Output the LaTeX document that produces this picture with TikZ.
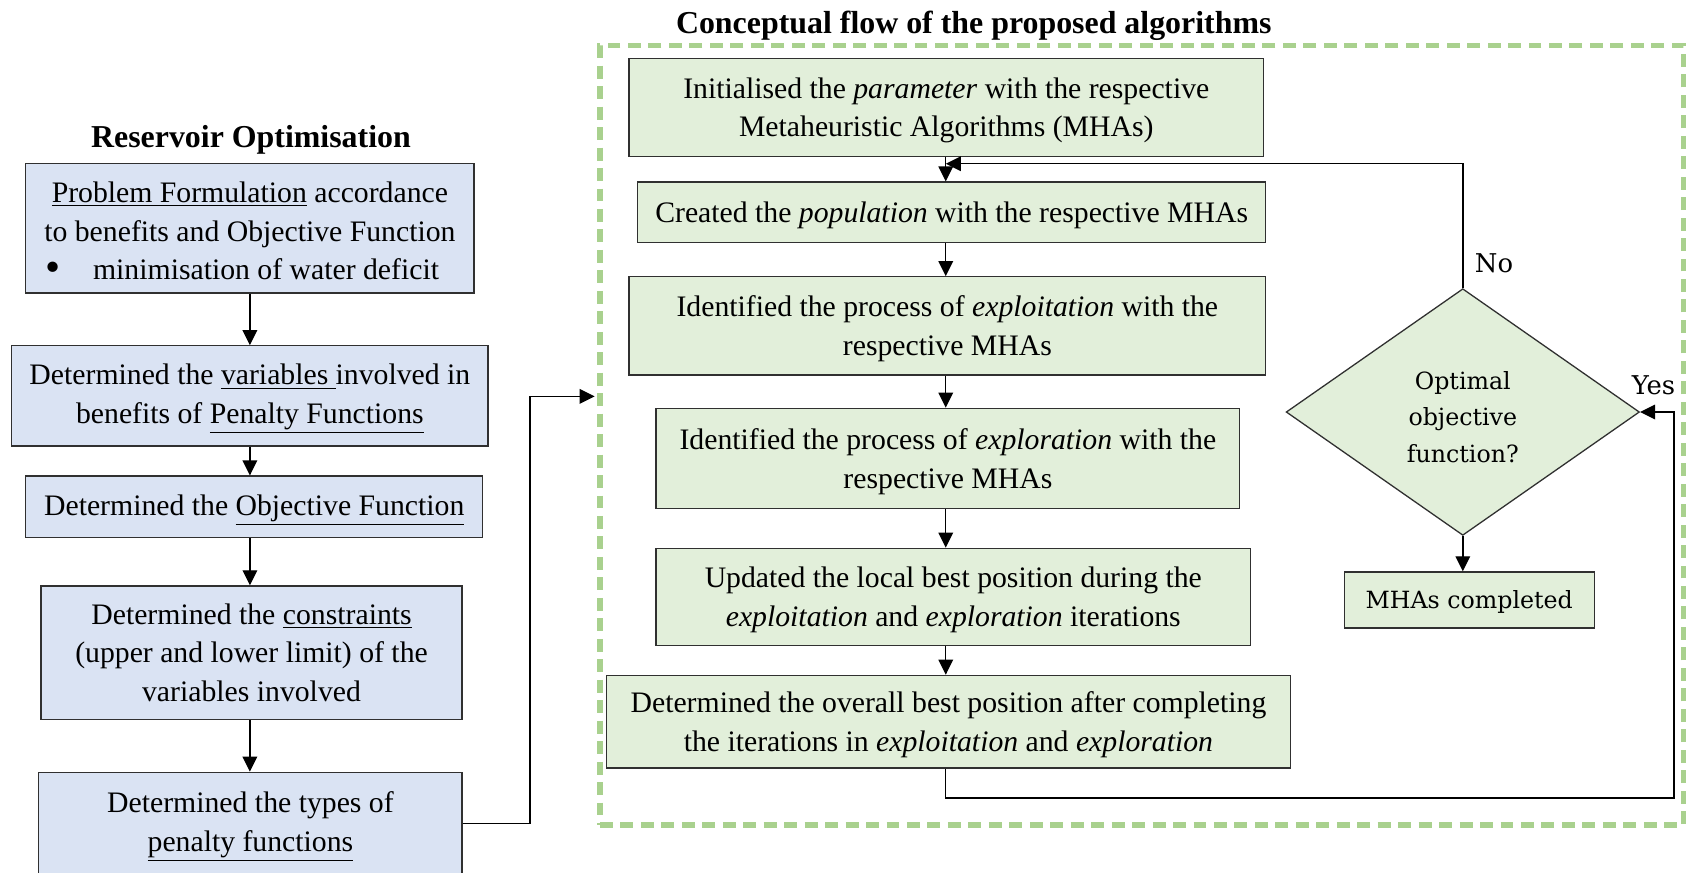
\documentclass[tikz,border=0pt]{standalone}
\usepackage{fontspec}
\setmainfont{Liberation Serif}
\newfontfamily\decfont{DejaVu Serif}
\usetikzlibrary{shapes.geometric,arrows.meta}
\definecolor{boxblue}{HTML}{DAE3F3}
\definecolor{boxgreen}{HTML}{E2EFDA}
\definecolor{framegreen}{HTML}{A9D18E}
\definecolor{edgegray}{HTML}{303030}
% taller first line, so that box texts sit a little lower
\newcommand{\tstrut}{\rule{0pt}{12.6pt}}

\begin{document}
\begin{tikzpicture}[x=0.5pt,y=-0.5pt,
  box/.style={draw=edgegray, line width=0.6pt, inner sep=2pt, align=center,
    font=\fontsize{13.8}{18}\selectfont},
  bluebox/.style={box, fill=boxblue},
  greenbox/.style={box, fill=boxgreen},
  conn/.style={line width=0.65pt, draw=black},
  arr/.style={conn, -{Triangle[length=7pt,width=6.8pt]}},
  heading/.style={font=\fontsize{14.8}{18}\selectfont\bfseries},
  decision/.style={diamond, draw=edgegray, line width=0.6pt, fill=boxgreen,
    inner sep=0pt, aspect=1.43},
  dectext/.style={align=center, inner sep=0pt, font=\decfont\fontsize{11}{17}\selectfont},
  answer/.style={font=\decfont\fontsize{12}{14}\selectfont, inner sep=0pt},
]
\useasboundingbox (0,0) rectangle (1568,810);

% dashed frame around the algorithm flow
\node[draw=framegreen, line width=2.5pt, dash pattern=on 6pt off 3.5pt,
  minimum width=503pt, minimum height=362pt, inner sep=0pt] (frame) at (1060,404) {};

% headings
\node[heading] (lefttitle) at (233,130) {Reservoir Optimisation};
\node[heading] (righttitle) at (904,24) {Conceptual flow of the proposed algorithms};

% reservoir optimisation column
\node[bluebox, minimum width=208pt, minimum height=60pt] (b1) at (232,212)
  {\tstrut\underline{Problem Formulation} accordance\\
   to benefits and Objective Function\\
   \raisebox{-0.8pt}{\fontsize{20}{18}\selectfont\textbullet}\hspace{15pt}minimisation of water deficit\hspace*{7pt}};
\node[bluebox, minimum width=221pt, minimum height=46.5pt] (b2) at (232,367.5)
  {\tstrut Determined the \underline{variables\ }involved in\\
   benefits of \underline{Penalty Functions}};
\node[bluebox, minimum width=212pt, minimum height=28.5pt] (b3) at (236,470.5)
  {\tstrut Determined the \underline{Objective Function}};
\node[bluebox, minimum width=195.5pt, minimum height=62pt] (b4) at (233.5,606)
  {Determined the \underline{constraints}\\
   (upper and lower limit) of the\\
   variables involved};
\node[bluebox, minimum width=196.5pt, minimum height=47.5pt] (b5) at (232.5,764.5)
  {\tstrut Determined the types of\\
   \underline{penalty functions}};

% algorithm column
\node[greenbox, minimum width=294.5pt, minimum height=45.5pt] (g1) at (878.5,99.5)
  {\tstrut Initialised the \textit{parameter} with the respective\\
   Metaheuristic Algorithms (MHAs)};
\node[greenbox, minimum width=291.5pt, minimum height=28pt] (g2) at (883.5,197)
  {\tstrut Created the \textit{population} with the respective MHAs};
\node[greenbox, minimum width=295.5pt, minimum height=45.5pt] (g3) at (879.5,302.5)
  {\tstrut Identified the process of \textit{exploitation} with the\\
   respective MHAs};
\node[greenbox, minimum width=271pt, minimum height=46.5pt] (g4) at (880,425.5)
  {\tstrut Identified the process of \textit{exploration} with the\\
   respective MHAs};
\node[greenbox, minimum width=276pt, minimum height=45pt] (g5) at (885,554)
  {\tstrut Updated the local best position during the\\
   \textit{exploitation} and \textit{exploration} iterations};
\node[greenbox, minimum width=317.5pt, minimum height=43pt] (g6) at (880.5,670)
  {\tstrut Determined the overall best position after completing\\
   the iterations in \textit{exploitation} and \textit{exploration}};

\node[decision, minimum width=164pt, minimum height=114.5pt] (dec) at (1358,382.5) {};
\node[dectext] (dectxt) at (1358,387) {Optimal\\objective\\function?};
\node[greenbox, font=\decfont\fontsize{11}{14}\selectfont,
  minimum width=116pt, minimum height=26pt] (done) at (1364,557)
  {\rule{0pt}{9.8pt}MHAs completed};

\node[answer] (no) at (1387,244) {No};
\node[answer] (yes) at (1535,358) {Yes};

% helper points for the connector routes
\coordinate (lax) at (232,0);
\coordinate (ax) at (878,0);
\coordinate (inbend) at (492,368);
\coordinate (noturn) at (1358,152);
\coordinate (ylow) at (1554,741);

% connectors of the left column
\draw[arr] (b1.south -| lax) -- (b2.north -| lax);
\draw[arr] (b2.south -| lax) -- (b3.north -| lax);
\draw[arr] (b3.south -| lax) -- (b4.north -| lax);
\draw[arr] (b4.south -| lax) -- (b5.north -| lax);
\draw[arr, shorten >=1.2pt] (b5.east) -| (inbend) -- (inbend -| frame.west);

% connectors of the algorithm flow
\draw[arr] (g1.south -| ax) -- (g2.north -| ax);
\draw[arr] (g2.south -| ax) -- (g3.north -| ax);
\draw[arr] (g3.south -| ax) -- (g4.north -| ax);
\draw[arr] (g4.south -| ax) -- (g5.north -| ax);
\draw[arr] (g5.south -| ax) -- (g6.north -| ax);
\draw[arr] (g6.south -| ax) |- (ylow) |- (dec.east);
\draw[arr] (dec.north) -- (noturn) -- (noturn -| ax);
\draw[arr] (dec.south) -- (dec.south |- done.north);
\end{tikzpicture}
\end{document}
